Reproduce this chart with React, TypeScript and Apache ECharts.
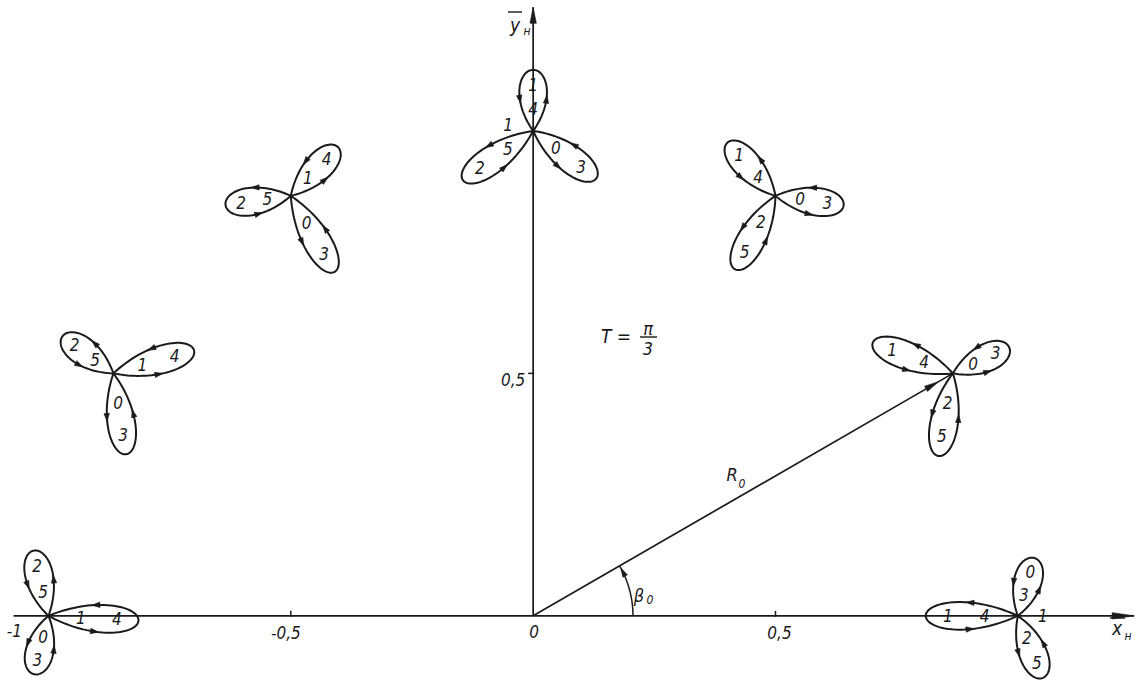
import React, { useEffect, useRef } from 'react';
import * as echarts from 'echarts';

// Angular positions of the moving point on the circle of radius R0, degrees
const betaDeg = [0, 30, 60, 90, 120, 150, 180];
const radiusR0 = 1;

// Petal directions (deg, counter-clockwise from the x axis) and lengths (R0 units)
const petal03Angle = [74, 25, -8, -37, -60, -81, -104];
const petal03Length = [0.124, 0.128, 0.142, 0.163, 0.181, 0.169, 0.124];
const petal14Angle = [180, 159, 132, 90, 46, 16, -3];
const petal14Length = [0.19, 0.177, 0.148, 0.126, 0.14, 0.173, 0.186];
const petal25Angle = [292, 260, 241, 215, 188, 144, 103];
const petal25Length = [0.138, 0.173, 0.173, 0.177, 0.136, 0.13, 0.138];

// Time marks written inside each petal: [near the centre, near the tip]
const petal03Marks = [['3', '0'], ['0', '3'], ['0', '3'], ['0', '3'], ['0', '3'], ['0', '3'], ['0', '3']];
const petal14Marks = [['4', '1'], ['4', '1'], ['4', '1'], ['4', '1'], ['1', '4'], ['1', '4'], ['1', '4']];
const petal25Marks = [['2', '5'], ['2', '5'], ['2', '5'], ['5', '2'], ['5', '2'], ['5', '2'], ['5', '2']];

// Axes
const xAxisExtent = [-1.072, 1.24];
const yAxisExtent = [0, 1.255];
const xTickValues = [-1, -0.5, 0, 0.5, 1];
const xTickLabels = ['-1', '-0,5', '0', '0,5', '1'];
const yTickValues = [0.5, 1];
const yTickLabels = ['0,5', '1'];
const xTickMarks = [-0.5, 0.5];
const yTickMarks = [0.5];

// Angle marked between the x axis and the radius R0
const betaMarked = 30;
const betaArcRadius = 0.206;

const INK = '#1a1a1a';
const FAMILY = "'DejaVu Sans Condensed', 'DejaVu Sans', sans-serif";
const FONT = `italic 17px ${FAMILY}`;
const PETAL_WIDTH = 0.057;
const ROSE_HALF_WIDTH = 0.1846;

const deg = (d: number) => (d * Math.PI) / 180;

function petalPoint(phi: number, L: number, W: number): number[] {
  const r = Math.cos(3 * phi);
  return [r * Math.cos(phi) * L, ((r * Math.sin(phi)) * (W / 2)) / ROSE_HALF_WIDTH];
}

function arrowHead(tip: number[], dir: number[], len: number, half: number) {
  const n = Math.hypot(dir[0], dir[1]) || 1;
  const tx = dir[0] / n;
  const ty = dir[1] / n;
  const nx = -ty;
  const ny = tx;
  const bx = tip[0] - tx * len;
  const by = tip[1] - ty * len;
  return {
    type: 'polygon',
    shape: { points: [tip, [bx + nx * half, by + ny * half], [bx - nx * half, by - ny * half]] },
    style: { fill: INK, stroke: INK, lineWidth: 0.6 },
  };
}

function buildPetals() {
  const values: number[][] = [];
  const marks: string[][] = [];
  betaDeg.forEach((b, i) => {
    const cx = radiusR0 * Math.cos(deg(b));
    const cy = radiusR0 * Math.sin(deg(b));
    values.push([cx, cy, petal03Angle[i], petal03Length[i]]);
    marks.push(petal03Marks[i]);
    values.push([cx, cy, petal14Angle[i], petal14Length[i]]);
    marks.push(petal14Marks[i]);
    values.push([cx, cy, petal25Angle[i], petal25Length[i]]);
    marks.push(petal25Marks[i]);
  });
  return { values, marks };
}

export default function App() {
  const ref = useRef<HTMLDivElement>(null);

  useEffect(() => {
    if (!ref.current) return;
    const chart = echarts.init(ref.current, undefined, { renderer: 'svg' });
    const petals = buildPetals();

    const petalSeries = {
      type: 'custom',
      coordinateSystem: 'cartesian2d',
      clip: false,
      data: petals.values,
      renderItem: (params: any, api: any) => {
        const c = api.coord([api.value(0), api.value(1)]);
        const L = api.size([api.value(3), 0])[0];
        const W = api.size([PETAL_WIDTH, 0])[0];
        const a = deg(api.value(2));
        const ux = Math.cos(a);
        const uy = -Math.sin(a);
        const vx = -Math.sin(a);
        const vy = -Math.cos(a);
        const toScr = (p: number[]) => [c[0] + p[0] * ux + p[1] * vx, c[1] + p[0] * uy + p[1] * vy];
        const pts: number[][] = [];
        const N = 72;
        for (let k = 0; k <= N; k++) {
          const phi = -Math.PI / 6 + ((Math.PI / 3) * k) / N;
          pts.push(toScr(petalPoint(phi, L, W)));
        }
        const children: any[] = [
          { type: 'polyline', shape: { points: pts }, style: { stroke: INK, lineWidth: 2, fill: 'none' } },
        ];
        for (const phi of [-0.33, 0.33]) {
          const p = toScr(petalPoint(phi, L, W));
          const q = toScr(petalPoint(phi + 0.01, L, W));
          const dir = [q[0] - p[0], q[1] - p[1]];
          const n = Math.hypot(dir[0], dir[1]);
          const tip = [p[0] + (dir[0] / n) * 4, p[1] + (dir[1] / n) * 4];
          children.push(arrowHead(tip, dir, 8, 2.7));
        }
        const m = petals.marks[params.dataIndex];
        ([[0.36, m[0]], [0.76, m[1]]] as [number, string][]).forEach(([f, t]) => {
          const p = toScr([L * f, 0]);
          children.push({
            type: 'text',
            x: p[0],
            y: p[1],
            style: { text: t, font: FONT, fill: INK, align: 'center', verticalAlign: 'middle' },
          });
        });
        return { type: 'group', children };
      },
    };

    // Axis lines with arrowheads
    const axisSeries = {
      type: 'custom',
      coordinateSystem: 'cartesian2d',
      clip: false,
      data: [
        [xAxisExtent[0], 0, xAxisExtent[1], 0, 22],
        [0, yAxisExtent[0], 0, yAxisExtent[1], 16],
      ],
      renderItem: (params: any, api: any) => {
        const p0 = api.coord([api.value(0), api.value(1)]);
        const p1 = api.coord([api.value(2), api.value(3)]);
        const dir = [p1[0] - p0[0], p1[1] - p0[1]];
        return {
          type: 'group',
          children: [
            { type: 'line', shape: { x1: p0[0], y1: p0[1], x2: p1[0], y2: p1[1] }, style: { stroke: INK, lineWidth: 1.7 } },
            arrowHead(p1, dir, api.value(4), 3.2),
          ],
        };
      },
    };

    // Radius R0 to the marked position and the angle arc beta0
    const radiusSeries = {
      type: 'custom',
      coordinateSystem: 'cartesian2d',
      clip: false,
      data: [[betaMarked, radiusR0, betaArcRadius]],
      renderItem: (params: any, api: any) => {
        const b = deg(api.value(0));
        const R = api.value(1);
        const o = api.coord([0, 0]);
        const end = api.coord([R * Math.cos(b), R * Math.sin(b)]);
        const tip = api.coord([0.965 * R * Math.cos(b), 0.965 * R * Math.sin(b)]);
        const dir = [end[0] - o[0], end[1] - o[1]];
        const rArc = api.size([api.value(2), 0])[0];
        const arcPts: number[][] = [];
        const steps = 30;
        for (let k = 0; k <= steps; k++) {
          const t = (b * k) / steps;
          arcPts.push([o[0] + rArc * Math.cos(t), o[1] - rArc * Math.sin(t)]);
        }
        const ta = b - deg(1.5);
        const arcTip = [o[0] + rArc * Math.cos(ta), o[1] - rArc * Math.sin(ta)];
        const arcDir = [-Math.sin(ta), -Math.cos(ta)];
        return {
          type: 'group',
          children: [
            { type: 'line', shape: { x1: o[0], y1: o[1], x2: end[0], y2: end[1] }, style: { stroke: INK, lineWidth: 1.7 } },
            arrowHead(tip, dir, 14, 3),
            { type: 'polyline', shape: { points: arcPts }, style: { stroke: INK, lineWidth: 1.5, fill: 'none' } },
            arrowHead(arcTip, arcDir, 9, 2.6),
          ],
        };
      },
    };

    // Tick marks
    const tickSeries = {
      type: 'custom',
      coordinateSystem: 'cartesian2d',
      clip: false,
      data: [...xTickMarks.map((v) => [v, 0, 0]), ...yTickMarks.map((v) => [0, v, 1])],
      renderItem: (params: any, api: any) => {
        const p = api.coord([api.value(0), api.value(1)]);
        const vertical = api.value(2) === 0;
        const shape = vertical
          ? { x1: p[0], y1: p[1] - 5, x2: p[0], y2: p[1] + 1 }
          : { x1: p[0] - 5, y1: p[1], x2: p[0] + 1, y2: p[1] };
        return { type: 'line', shape, style: { stroke: INK, lineWidth: 1.5 } };
      },
    };

    // Tick labels
    const xLabelShift = [[-34, 15], [-5, 17], [1, 16], [4, 17], [25, 0]];
    const yLabelShift = [[-20, 7], [-25, -6]];
    const tickLabelSeries = {
      type: 'custom',
      coordinateSystem: 'cartesian2d',
      clip: false,
      data: [
        ...xTickValues.map((v, i) => [v, 0, 0, i]),
        ...yTickValues.map((v, i) => [0, v, 1, i]),
      ],
      renderItem: (params: any, api: any) => {
        const p = api.coord([api.value(0), api.value(1)]);
        const isX = api.value(2) === 0;
        const i = api.value(3);
        const text = isX ? xTickLabels[i] : yTickLabels[i];
        const s = isX ? xLabelShift[i] : yLabelShift[i];
        return {
          type: 'text',
          x: p[0] + s[0],
          y: p[1] + s[1],
          style: { text, font: FONT, fill: INK, align: 'center', verticalAlign: 'middle' },
        };
      },
    };

    const txt = (x: number, y: number, text: string, size: number) => ({
      type: 'text',
      x,
      y,
      style: { text, font: `italic ${size}px ${FAMILY}`, fill: INK, align: 'center', verticalAlign: 'middle' },
    });
    const bar = (x1: number, x2: number, y: number) => ({
      type: 'line',
      shape: { x1, y1: y, x2, y2: y },
      style: { stroke: INK, lineWidth: 1.4 },
    });

    chart.setOption({
      animation: false,
      backgroundColor: '#ffffff',
      grid: { left: 0, right: 0, top: 0, bottom: 0 },
      xAxis: { type: 'value', min: -1.1, max: 1.25, show: false },
      yAxis: { type: 'value', min: -0.155, max: 1.27, show: false },
      series: [axisSeries, tickSeries, tickLabelSeries, radiusSeries, petalSeries],
      graphic: [
        // period note
        txt(616, 336, 'T =', 19),
        txt(648, 328, 'π', 18),
        bar(640, 657, 337),
        txt(648, 348, '3', 18),
        // radius and angle names
        txt(732, 474, 'R', 18),
        txt(742, 484, '0', 12),
        txt(639, 595, 'β', 18),
        txt(650, 600, '0', 12),
        // axis names
        txt(515, 25, 'y', 19),
        bar(508, 522, 12),
        txt(527, 31, 'н', 12),
        txt(1117, 628, 'x', 19),
        bar(1110, 1125, 618),
        txt(1128, 636, 'н', 12),
      ],
    });
    return () => chart.dispose();
  }, []);

  return (
    <div
      ref={ref}
      style={{ position: 'absolute', left: 0, top: 0, width: 1139, height: 691, background: '#fff' }}
    />
  );
}
